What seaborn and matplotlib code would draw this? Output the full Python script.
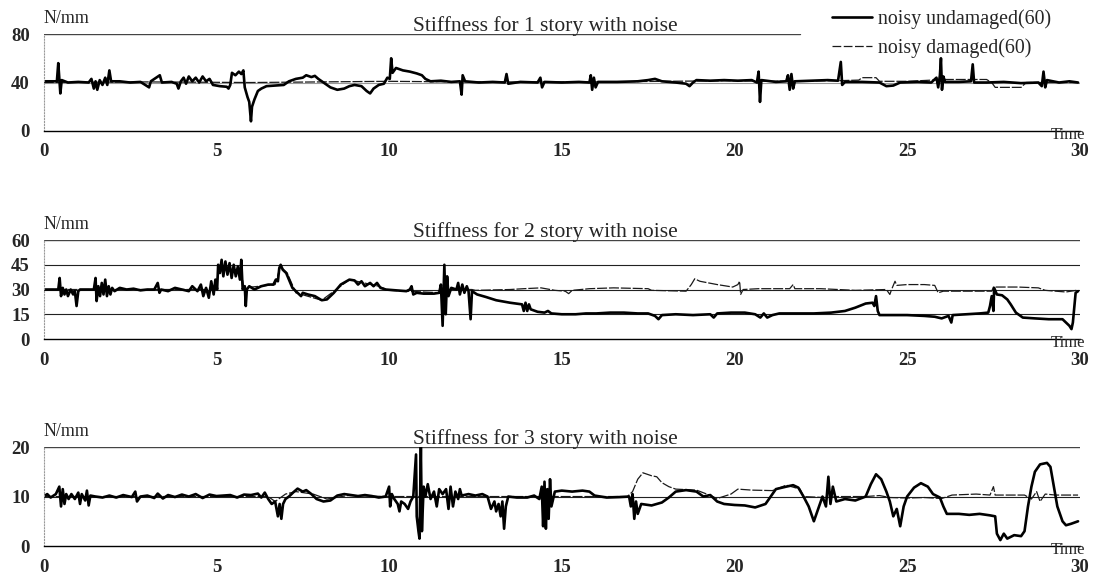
import numpy as np
import matplotlib
matplotlib.use("Agg")
import matplotlib.pyplot as plt
import matplotlib.lines as mlines
import seaborn as sns

# ==========================================
# data: (time, stiffness) pairs per curve
# ==========================================
s1_undamaged = [
    (0, 41), (0.38, 41), (0.42, 56), (0.45, 44), (0.48, 31), (0.52, 42), (0.7, 40), (1.0, 40.5),
    (1.3, 40), (1.38, 43), (1.45, 35), (1.5, 41), (1.55, 34), (1.62, 42), (1.7, 38), (1.78, 44),
    (1.84, 38), (1.9, 50), (1.95, 41), (2.2, 41), (2.5, 40), (2.8, 40.5), (3.05, 36), (3.1, 41),
    (3.36, 46), (3.42, 40), (3.7, 40.5), (3.85, 39), (3.9, 35), (3.97, 41), (4.05, 44), (4.12, 39),
    (4.2, 45), (4.3, 41), (4.4, 44), (4.5, 40), (4.6, 45), (4.7, 41), (4.8, 43), (4.9, 38),
    (5.1, 37), (5.3, 36.5), (5.35, 35), (5.4, 38), (5.45, 48), (5.55, 46), (5.65, 49), (5.72, 47),
    (5.78, 50), (5.82, 36), (5.9, 28), (5.95, 24), (6.0, 8), (6.03, 20), (6.1, 26), (6.2, 33),
    (6.3, 35), (6.45, 37), (6.7, 37.5), (6.95, 38), (7.1, 41), (7.3, 43), (7.5, 44), (7.6, 46),
    (7.75, 44.5), (7.85, 45.5), (7.95, 43), (8.1, 40), (8.3, 36), (8.5, 34), (8.7, 35), (8.85, 37),
    (9.0, 38), (9.2, 37), (9.35, 33), (9.45, 31), (9.55, 35), (9.7, 38), (9.85, 39), (9.95, 44),
    (10.02, 43), (10.06, 60), (10.1, 48), (10.2, 52), (10.4, 50), (10.6, 49), (10.8, 47.5), (10.95, 46),
    (11.05, 43), (11.2, 41), (11.5, 41.5), (11.8, 40.5), (12.05, 41), (12.1, 30), (12.13, 46), (12.2, 41),
    (12.6, 40), (13.0, 40.5), (13.35, 40), (13.4, 47), (13.45, 39), (13.8, 40.5), (14.3, 40), (14.38, 44),
    (14.43, 36), (14.5, 40.5), (15.0, 40), (15.5, 40.5), (15.8, 40), (15.84, 46), (15.88, 34), (15.93, 44),
    (15.98, 36), (16.05, 40.5), (16.6, 40.5), (17.2, 41), (17.5, 42), (17.7, 43), (17.9, 41), (18.3, 40),
    (18.6, 39), (18.7, 37), (18.8, 40), (18.9, 42), (19.3, 41.5), (19.7, 42), (20.1, 41.5), (20.5, 42),
    (20.65, 40), (20.7, 49), (20.74, 24), (20.78, 42), (21.2, 40.5), (21.5, 41), (21.55, 46), (21.6, 34),
    (21.65, 47), (21.7, 35), (21.75, 41), (22.2, 41.5), (22.7, 42), (23.0, 41.5), (23.08, 57), (23.12, 38),
    (23.2, 40.5), (23.7, 40.5), (24.2, 40), (24.4, 37), (24.6, 37.5), (24.8, 40), (25.3, 40.5), (25.7, 40),
    (25.85, 44), (25.9, 36), (25.95, 46), (25.98, 60), (26.01, 34), (26.05, 45), (26.1, 40.5), (26.5, 40.5),
    (26.85, 41), (26.9, 55), (26.94, 40), (27.3, 40), (27.8, 40.5), (28.3, 39.5), (28.8, 40), (28.9, 37),
    (28.95, 49), (29.0, 36), (29.05, 42), (29.4, 40), (29.7, 41), (29.95, 40),
]
s1_damaged = [
    (0, 40), (3, 40.5), (6, 40), (10, 41), (12, 40.5), (16, 40.5), (18, 41), (20, 41.5), (21, 41),
    (23.0, 41.5), (23.6, 42), (23.7, 44), (24.1, 44), (24.2, 41), (25, 41), (26.1, 42.5), (27.3, 42.5),
    (27.45, 40), (27.55, 36), (28.3, 36), (28.45, 40), (29.95, 40),
]

s2_undamaged = [
    (0, 30), (0.42, 30), (0.46, 37), (0.5, 26), (0.55, 31), (0.6, 27), (0.65, 30), (0.7, 26), (0.78, 30),
    (0.85, 27), (0.9, 29), (0.95, 20), (1.0, 29), (1.05, 30), (1.45, 30), (1.5, 37), (1.53, 23), (1.58, 32),
    (1.63, 26), (1.68, 34), (1.73, 27), (1.78, 36), (1.83, 26), (1.88, 32), (1.93, 27), (1.98, 31),
    (2.05, 29), (2.2, 31), (2.4, 30), (2.6, 30.5), (2.8, 29.5), (3.0, 30), (3.2, 30), (3.3, 34), (3.35, 28),
    (3.4, 30), (3.6, 29), (3.8, 31), (4.0, 30), (4.2, 29), (4.3, 32), (4.45, 29), (4.55, 33), (4.62, 26),
    (4.7, 31), (4.78, 25), (4.85, 35), (4.92, 27), (4.97, 36), (5.02, 30), (5.05, 45), (5.1, 40), (5.15, 48),
    (5.2, 38), (5.26, 47), (5.32, 39), (5.38, 46), (5.44, 37), (5.5, 45), (5.56, 38), (5.62, 44), (5.68, 36),
    (5.72, 48), (5.76, 30), (5.82, 32), (5.85, 20), (5.88, 30), (5.95, 32), (6.1, 30), (6.3, 32), (6.5, 33),
    (6.65, 33), (6.72, 36), (6.78, 35), (6.82, 43), (6.86, 45), (6.92, 42), (7.02, 40), (7.1, 36), (7.2, 31),
    (7.35, 28), (7.45, 26), (7.5, 28), (7.65, 27), (7.85, 26), (8.05, 23.5), (8.2, 24), (8.4, 28), (8.6, 33),
    (8.85, 36), (9.0, 35.5), (9.1, 33), (9.2, 35), (9.3, 32), (9.45, 34), (9.55, 32), (9.65, 34), (9.75, 31),
    (9.9, 30), (10.2, 29.5), (10.5, 29), (10.6, 30), (10.65, 32), (10.7, 27), (10.8, 28), (11.0, 27.5),
    (11.3, 27.5), (11.45, 28), (11.5, 33), (11.55, 8), (11.6, 45), (11.64, 15), (11.68, 38), (11.72, 26),
    (11.8, 31), (11.95, 30), (12.0, 34), (12.05, 27), (12.12, 33), (12.18, 28), (12.25, 32), (12.3, 29),
    (12.36, 12), (12.4, 29), (12.55, 27), (12.8, 25.5), (13.1, 23.5), (13.5, 22), (13.85, 21), (13.9, 17),
    (13.95, 22), (14.0, 17), (14.05, 21), (14.1, 18), (14.3, 16.5), (14.5, 16), (14.6, 17), (14.7, 15.5),
    (15.0, 15), (15.4, 15), (15.7, 15.5), (16.0, 15.5), (16.4, 16), (16.8, 16), (17.2, 15.5), (17.5, 15.5),
    (17.7, 14), (17.8, 12), (17.9, 14.5), (18.3, 15), (18.8, 14.5), (19.3, 15), (19.4, 13), (19.5, 15.5),
    (19.9, 16), (20.3, 16), (20.6, 15), (20.75, 13), (20.85, 15.5), (20.95, 13), (21.1, 14.5), (21.3, 15.5),
    (21.8, 15.5), (22.3, 15.5), (22.8, 16), (23.2, 17), (23.5, 19), (23.8, 21.5), (24.0, 22), (24.05, 20),
    (24.1, 26), (24.15, 17), (24.2, 14.5), (24.6, 14.5), (25.0, 14.5), (25.5, 14), (25.8, 13.5), (26.0, 12.5),
    (26.2, 14), (26.28, 10), (26.32, 14.5), (26.7, 15), (27.1, 15.5), (27.35, 16), (27.4, 20), (27.45, 26),
    (27.5, 17), (27.52, 31), (27.6, 27), (27.75, 26.5), (27.9, 24), (28.0, 21), (28.15, 16), (28.35, 13),
    (28.7, 12.5), (29.1, 12), (29.5, 12), (29.6, 10), (29.7, 8), (29.76, 6), (29.8, 10), (29.88, 28),
    (29.95, 29),
]
s2_damaged = [
    (0, 30), (5.0, 30), (5.05, 42), (5.7, 42), (5.8, 31), (6.7, 33), (6.85, 44), (7.05, 40), (7.3, 28),
    (8.05, 23.5), (8.85, 36), (9.7, 32), (10.0, 29.5), (11.5, 28), (11.6, 30), (12.4, 30), (12.5, 29.5),
    (13.5, 30), (13.9, 30.5), (14.4, 31), (14.8, 29.5), (15.1, 29), (15.2, 27.5), (15.3, 29.5), (15.8, 30.5),
    (16.5, 31), (17.5, 30.5), (17.6, 29.5), (18.6, 29), (18.75, 33), (18.85, 36.5), (19.0, 35), (19.5, 33),
    (19.95, 31.5), (20.1, 33), (20.15, 35), (20.18, 27), (20.25, 30), (20.7, 30.5), (21.6, 30.5), (21.7, 33),
    (21.75, 30.5), (22.5, 30.5), (23.0, 30), (23.5, 29.5), (24.4, 30), (24.5, 27), (24.55, 30), (24.65, 35),
    (24.7, 32.5), (25.0, 33), (25.5, 33), (25.8, 32.5), (25.9, 28), (26.05, 29), (26.5, 29), (27.0, 29),
    (27.45, 29), (27.5, 31.5), (28.2, 31.5), (28.8, 31), (29.0, 29.5), (29.3, 29), (29.6, 28.5), (29.9, 29.5),
]

s3_undamaged = [
    (0, 10), (0.1, 10.5), (0.2, 9.8), (0.35, 10.5), (0.45, 12), (0.5, 8), (0.55, 11.5), (0.6, 8.5),
    (0.65, 10.5), (0.72, 9.5), (0.8, 10.5), (0.9, 9.5), (1.0, 10.8), (1.05, 8.5), (1.1, 10.5), (1.2, 9.2),
    (1.25, 11.2), (1.3, 8.2), (1.35, 10.2), (1.5, 10), (1.7, 9.8), (1.9, 10.2), (2.1, 9.8), (2.3, 10.3),
    (2.55, 9.9), (2.65, 11), (2.7, 9), (2.8, 10), (3.0, 10.2), (3.2, 9.7), (3.3, 10.6), (3.45, 9.6),
    (3.6, 10.3), (3.8, 9.9), (4.0, 10.4), (4.2, 10.0), (4.4, 10.5), (4.6, 9.7), (4.8, 10.4), (5.0, 10.1),
    (5.2, 10.2), (5.4, 10.3), (5.6, 9.8), (5.8, 10.4), (6.0, 10.3), (6.2, 10.6), (6.3, 9.8), (6.4, 10.8),
    (6.5, 9.5), (6.6, 8.5), (6.7, 9), (6.78, 6), (6.83, 8.5), (6.88, 5.5), (6.93, 8.5), (7.0, 9.5),
    (7.1, 10), (7.25, 11), (7.35, 11.6), (7.5, 11), (7.6, 11.3), (7.75, 10.5), (7.9, 9.5), (8.1, 9),
    (8.3, 9.2), (8.5, 10.2), (8.7, 10.5), (8.9, 10.3), (9.1, 10.1), (9.3, 10.3), (9.5, 10.1), (9.7, 9.8),
    (9.9, 10), (10.0, 12), (10.03, 8), (10.08, 10.5), (10.15, 9.5), (10.25, 8.5), (10.3, 7), (10.35, 9),
    (10.45, 8.5), (10.55, 7.5), (10.62, 9), (10.7, 10), (10.78, 18.5), (10.8, 6), (10.85, 3), (10.88, 1.5),
    (10.92, 20), (10.95, 3), (11.0, 12), (11.05, 10), (11.12, 12.5), (11.2, 9.5), (11.3, 11), (11.38, 8),
    (11.45, 11.5), (11.55, 10.5), (11.65, 11.5), (11.72, 7.5), (11.78, 12), (11.85, 8), (11.92, 11),
    (12.0, 9.5), (12.05, 11.5), (12.1, 10.2), (12.3, 10.5), (12.5, 10.2), (12.7, 10.5), (12.85, 10),
    (12.95, 7.5), (13.05, 9), (13.1, 7), (13.17, 8.5), (13.23, 6), (13.28, 9), (13.33, 3.5), (13.38, 8),
    (13.45, 10), (13.7, 9.8), (14.0, 9.8), (14.2, 10.2), (14.35, 9.5), (14.42, 12), (14.46, 4), (14.5, 13),
    (14.54, 3.5), (14.58, 11.5), (14.62, 5.5), (14.66, 13.5), (14.7, 8), (14.8, 11), (15.0, 11.2),
    (15.3, 11), (15.6, 11.2), (15.8, 11), (15.95, 10.2), (16.3, 9.8), (16.7, 9.9), (16.95, 10), (17.0, 8),
    (17.05, 10.5), (17.1, 5.5), (17.15, 9), (17.2, 6.5), (17.3, 8.5), (17.6, 8.2), (17.9, 8.8), (18.1, 9.8),
    (18.3, 11), (18.6, 11.3), (18.9, 11), (19.1, 10), (19.3, 10.3), (19.5, 9), (19.7, 8.5), (20.0, 8.3),
    (20.3, 8.2), (20.6, 7.8), (20.9, 8.5), (21.1, 10.5), (21.2, 11.5), (21.5, 12), (21.7, 12.3),
    (21.85, 11.8), (22.0, 10), (22.15, 8), (22.3, 5), (22.4, 7), (22.55, 10), (22.65, 8), (22.72, 14),
    (22.78, 8.5), (22.85, 12), (22.95, 9), (23.2, 9.5), (23.5, 9.2), (23.8, 10), (23.95, 12.5), (24.1, 14.5),
    (24.25, 13.5), (24.4, 11), (24.5, 9), (24.6, 6), (24.7, 7.5), (24.8, 4), (24.9, 8), (25.0, 10),
    (25.2, 11.8), (25.4, 12.7), (25.6, 12), (25.75, 10.5), (25.95, 9.8), (26.05, 8), (26.15, 6.5),
    (26.5, 6.5), (26.8, 6.3), (27.1, 6.5), (27.4, 6.2), (27.55, 6), (27.6, 2.5), (27.7, 1.2), (27.8, 2.5),
    (27.9, 1.5), (28.1, 2.2), (28.3, 2), (28.4, 3), (28.5, 8), (28.6, 12), (28.7, 15), (28.85, 16.5),
    (29.05, 16.8), (29.15, 16), (29.25, 12), (29.35, 8), (29.5, 5), (29.6, 4.2), (29.75, 4.5), (29.95, 5),
]
s3_damaged = [
    (0, 10), (6.5, 10), (6.7, 9), (7.0, 10.5), (7.3, 11), (7.8, 10.5), (8.2, 9.5), (8.8, 10.2), (10, 10),
    (16.9, 10), (17.05, 11), (17.2, 13.5), (17.35, 14.8), (17.6, 14.2), (17.75, 14), (17.9, 12.8),
    (18.1, 12), (18.3, 11.5), (18.9, 11.3), (19.2, 10.5), (19.5, 9.6), (19.9, 10.5), (20.1, 11.5),
    (20.5, 11.3), (21.1, 11.2), (21.5, 12.3), (21.9, 11.5), (22.0, 10), (22.6, 9.8), (23.0, 10), (23.8, 10),
    (24.2, 10.2), (24.5, 9.8), (25.0, 9.7), (25.5, 9.8), (26.0, 9.6), (26.3, 10.3), (27.0, 10.5),
    (27.4, 10.3), (27.5, 12), (27.55, 10.3), (28.4, 10.3), (28.6, 9.5), (28.75, 11), (28.85, 9),
    (29.0, 10.5), (29.3, 10.3), (29.95, 10.3),
]

titles = ["Stiffness for 1 story with noise", "Stiffness for 2 story with noise",
          "Stiffness for 3 story with noise"]
y_ticks = [[0, 40, 80], [0, 15, 30, 45, 60], [0, 10, 20]]
x_ticks = [0, 5, 10, 15, 20, 25, 30]
legend_labels = ["noisy undamaged(60)", "noisy damaged(60)"]

# ==========================================
# drawing
# ==========================================
sns.set_style("white")
plt.rcParams['font.family'] = ['Liberation Serif', 'DejaVu Serif']

fig = plt.figure(figsize=(10.94, 5.84), dpi=100)
boxes = [[0.040, 0.7757, 0.947, 0.166],
         [0.040, 0.4195, 0.947, 0.1695],
         [0.040, 0.065, 0.947, 0.1695]]
series = [(s1_undamaged, s1_damaged), (s2_undamaged, s2_damaged), (s3_undamaged, s3_damaged)]

und_kw = dict(color='black', linewidth=1.9)
dam_kw = dict(color='#1a1a1a', linewidth=0.9, dashes=(8, 1.5))

for i, (box, (und, dam)) in enumerate(zip(boxes, series)):
    ax = fig.add_axes(box)
    ticks = y_ticks[i]

    # gridlines under the curves
    for v in ticks[1:]:
        if v == ticks[-1]:
            xmax = 0.73 if i == 0 else 1.0
            ax.axhline(v, xmax=xmax, color='#444444', lw=1.0, zorder=0)
        elif i == 0:
            ax.axhline(v, color='#999999', lw=0.8, zorder=0)
        else:
            ax.axhline(v, color='#222222', lw=0.8, zorder=0)

    td, yd = zip(*dam)
    sns.lineplot(x=list(td), y=list(yd), ax=ax, estimator=None, sort=False, **dam_kw)
    tu, yu = zip(*und)
    sns.lineplot(x=list(tu), y=list(yu), ax=ax, estimator=None, sort=False, **und_kw)

    ax.set_xlim(0, 30)
    ax.set_ylim(0, ticks[-1])
    ax.set_xticks(x_ticks)
    ax.set_yticks(ticks)
    ax.tick_params(axis='x', direction='in', length=5, width=0.8, pad=9, labelsize=13.5)
    ax.tick_params(axis='y', length=0, pad=10, labelsize=13.5)
    for lab in ax.get_xticklabels() + ax.get_yticklabels():
        lab.set_fontweight('bold')

    for s in ['top', 'right']:
        ax.spines[s].set_visible(False)
    ax.spines['bottom'].set_color('black')
    ax.spines['bottom'].set_linewidth(1.0)
    ax.spines['left'].set_color('#999999')
    ax.spines['left'].set_linestyle(':')
    ax.spines['left'].set_linewidth(0.8)

    ax.set_title(titles[i], fontsize=15.5, x=0.484, pad=2)
    ax.annotate('N/mm', xy=(0, 1), xycoords='axes fraction', xytext=(0, 5),
                textcoords='offset points', ha='left', va='bottom', fontsize=13)
    ax.annotate('Time', xy=(1, 0), xycoords='axes fraction', xytext=(4, 3),
                textcoords='offset points', ha='right', va='top', fontsize=12)

handles = [mlines.Line2D([], [], **und_kw, label=legend_labels[0]),
           mlines.Line2D([], [], color='#1a1a1a', linewidth=0.9, dashes=(7, 2), label=legend_labels[1])]
fig.legend(handles=handles, loc='upper left', bbox_to_anchor=(814 / 1094, 1 + 9 / 584),
           frameon=False, fontsize=14.3, handlelength=2.0, handletextpad=0.3, labelspacing=0.5)

fig.savefig('out.png', dpi=100)
